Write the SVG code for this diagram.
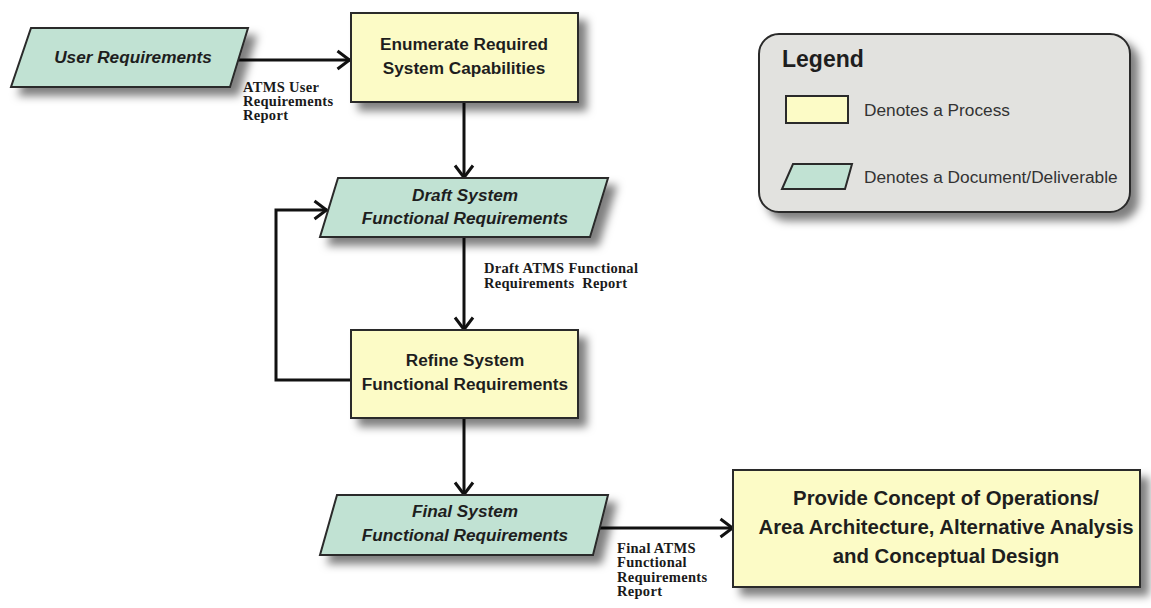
<svg xmlns="http://www.w3.org/2000/svg" width="1151" height="608" viewBox="0 0 1151 608">
  <style>
    .proc { fill: #fcfbc6; stroke: #2a2a2a; stroke-width: 2; }
    .doc { fill: #c1e2d3; stroke: #2a2a2a; stroke-width: 2; }
    .nodeText { font-family: "Liberation Sans", Arial, sans-serif; font-weight: bold; font-size: 17.2px; fill: #1e1e1e; text-anchor: middle; }
    .docText { font-style: italic; }
    .bigText { font-size: 20.4px; }
    .edge { fill: none; stroke: #111; stroke-width: 3; }
    .edgeLabel { font-family: "Liberation Serif", "Times New Roman", serif; font-weight: bold; font-size: 14.5px; letter-spacing: 0.3px; fill: #1a1a1a; }
    .legendText { font-family: "Liberation Sans", Arial, sans-serif; font-size: 17.3px; fill: #333; }
  </style>
  <defs>
    <filter id="shadow" x="-10%" y="-20%" width="130%" height="160%">
      <feDropShadow dx="8" dy="8" stdDeviation="4" flood-color="#000" flood-opacity="0.5"/>
    </filter>
    <marker id="chevron" viewBox="0 0 16 22" refX="14.5" refY="11" markerWidth="16" markerHeight="22" markerUnits="userSpaceOnUse" orient="auto">
      <path d="M2,2 L14,11 L2,20" fill="none" stroke="#111" stroke-width="3"/>
    </marker>
  </defs>

  <rect width="1151" height="608" fill="#ffffff"/>

  <!-- connectors -->
  <g id="connectors">
    <line class="edge" x1="236" y1="60" x2="350" y2="60" marker-end="url(#chevron)"/>
    <line class="edge" x1="464" y1="102" x2="464" y2="178" marker-end="url(#chevron)"/>
    <line class="edge" x1="464" y1="238" x2="464" y2="330" marker-end="url(#chevron)"/>
    <polyline class="edge" points="351,380 276,380 276,210 327,210" marker-end="url(#chevron)"/>
    <line class="edge" x1="464" y1="419" x2="464" y2="495" marker-end="url(#chevron)"/>
    <line class="edge" x1="598" y1="528" x2="733" y2="528" marker-end="url(#chevron)"/>

    <text class="edgeLabel" x="243" y="92">ATMS User</text>
    <text class="edgeLabel" x="243" y="106">Requirements</text>
    <text class="edgeLabel" x="243" y="120">Report</text>

    <text class="edgeLabel" x="484" y="273">Draft ATMS Functional</text>
    <text class="edgeLabel" x="484" y="288" xml:space="preserve">Requirements  Report</text>

    <text class="edgeLabel" x="617" y="553">Final ATMS</text>
    <text class="edgeLabel" x="617" y="567">Functional</text>
    <text class="edgeLabel" x="617" y="581.5">Requirements</text>
    <text class="edgeLabel" x="617" y="596">Report</text>
  </g>

  <!-- User Requirements (document) -->
  <g id="user-requirements">
    <polygon class="doc" filter="url(#shadow)" points="31,28 248,28 230,87 11,87"/>
    <text class="nodeText docText" x="133" y="63">User Requirements</text>
  </g>

  <!-- Enumerate Required System Capabilities (process) -->
  <g id="enumerate-capabilities">
    <rect class="proc" filter="url(#shadow)" x="351" y="13" width="227" height="89"/>
    <text class="nodeText" x="464" y="50">Enumerate Required</text>
    <text class="nodeText" x="464" y="74">System Capabilities</text>
  </g>

  <!-- Draft System Functional Requirements (document) -->
  <g id="draft-functional-requirements">
    <polygon class="doc" filter="url(#shadow)" points="338,178 608,178 590,237 320,237"/>
    <text class="nodeText docText" x="465" y="201">Draft System</text>
    <text class="nodeText docText" x="465" y="224">Functional Requirements</text>
  </g>

  <!-- Refine System Functional Requirements (process) -->
  <g id="refine-functional-requirements">
    <rect class="proc" filter="url(#shadow)" x="351" y="330" width="227" height="88"/>
    <text class="nodeText" x="465" y="366">Refine System</text>
    <text class="nodeText" x="465" y="390">Functional Requirements</text>
  </g>

  <!-- Final System Functional Requirements (document) -->
  <g id="final-functional-requirements">
    <polygon class="doc" filter="url(#shadow)" points="337,495 608,495 593,555 320,555"/>
    <text class="nodeText docText" x="465" y="517">Final System</text>
    <text class="nodeText docText" x="465" y="541">Functional Requirements</text>
  </g>

  <!-- Provide Concept of Operations (process) -->
  <g id="concept-of-operations">
    <rect class="proc" filter="url(#shadow)" x="733" y="470" width="407" height="117"/>
    <text class="nodeText bigText" x="946" y="505">Provide Concept of Operations/</text>
    <text class="nodeText bigText" x="946" y="534">Area Architecture, Alternative Analysis</text>
    <text class="nodeText bigText" x="946" y="563">and Conceptual Design</text>
  </g>

  <!-- Legend -->
  <g id="legend">
    <rect x="759" y="34" width="371" height="178" rx="20" ry="20" fill="#e2e2df" stroke="#2a2a2a" stroke-width="2" filter="url(#shadow)"/>
    <text x="782" y="67" font-family="Liberation Sans, Arial, sans-serif" font-weight="bold" font-size="23" fill="#1e1e1e">Legend</text>
    <rect class="proc" x="786" y="96" width="62" height="27" stroke-width="1.5"/>
    <text class="legendText" x="864" y="116">Denotes a Process</text>
    <polygon class="doc" points="793,164 852,164 845,189 782,189" stroke-width="1.5"/>
    <text class="legendText" x="864" y="183">Denotes a Document/Deliverable</text>
  </g>
</svg>
